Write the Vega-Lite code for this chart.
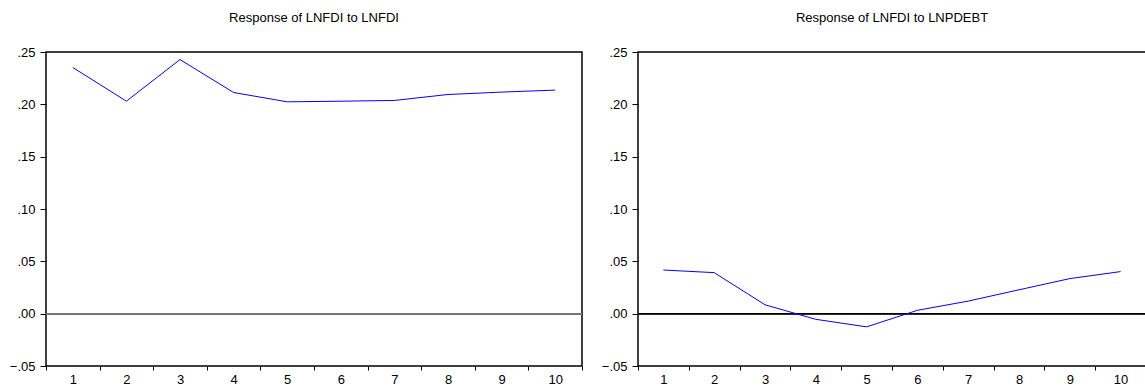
{
  "$schema": "https://vega.github.io/schema/vega-lite/v6.json",
  "background": "white",
  "padding": {"left": 8, "top": 11, "right": 0, "bottom": 0},
  "spacing": 16,
  "config": {
    "font": "Liberation Sans",
    "view": {"stroke": "#000", "strokeWidth": 1.5},
    "axis": {"grid": false, "domain": false, "labelFont": "Liberation Sans", "labelFontSize": 13, "labelColor": "#000", "tickColor": "#000", "tickWidth": 1, "title": null},
    "title": {"font": "Liberation Sans", "fontSize": 13, "fontWeight": "normal", "color": "#000", "offset": 21}
  },
  "datasets": {
    "fdi": [
      {"period": 1, "response": 0.2352},
      {"period": 2, "response": 0.203},
      {"period": 3, "response": 0.2428},
      {"period": 4, "response": 0.2113},
      {"period": 5, "response": 0.2024},
      {"period": 6, "response": 0.203},
      {"period": 7, "response": 0.2037},
      {"period": 8, "response": 0.2094},
      {"period": 9, "response": 0.2117},
      {"period": 10, "response": 0.2136}
    ],
    "pdebt": [
      {"period": 1, "response": 0.0417},
      {"period": 2, "response": 0.0392},
      {"period": 3, "response": 0.0085},
      {"period": 4, "response": -0.0054},
      {"period": 5, "response": -0.0126},
      {"period": 6, "response": 0.0032},
      {"period": 7, "response": 0.012},
      {"period": 8, "response": 0.0228},
      {"period": 9, "response": 0.0335},
      {"period": 10, "response": 0.0402}
    ]
  },
  "hconcat": [
    {
      "width": 536,
      "height": 314,
      "title": "Response of LNFDI to LNFDI",
      "data": {"name": "fdi"},
      "layer": [
        {
          "mark": {"type": "rule", "color": "#777", "strokeWidth": 1.5},
          "encoding": {"y": {"datum": 0, "type": "quantitative"}}
        },
        {
          "mark": {"type": "line", "color": "#0000ff", "strokeWidth": 1},
          "encoding": {
            "x": {"field": "period", "type": "quantitative",
              "scale": {"domain": [0.5, 10.5], "nice": false, "zero": false},
              "axis": {"values": [0.5, 1.5, 2.5, 3.5, 4.5, 5.5, 6.5, 7.5, 8.5, 9.5, 10.5], "tickSize": 4, "labelPadding": 3, "labelOffset": {"condition": {"test": "datum.value > 10", "value": 0}, "value": 26.8}, "labelFlush": false, "labelOverlap": false, "labelExpr": "datum.value > 10 ? '' : format(datum.value + 0.5, 'd')"}},
            "y": {"field": "response", "type": "quantitative",
              "scale": {"domain": [-0.05, 0.25], "nice": false, "zero": false},
              "axis": {"values": [-0.05, 0, 0.05, 0.1, 0.15, 0.2, 0.25], "tickSize": 6, "labelPadding": 5, "labelExpr": "replace(format(datum.value, '.2f'), '0.', '.')"}}
          }
        }
      ]
    },
    {
      "width": 508,
      "height": 314,
      "title": "Response of LNFDI to LNPDEBT",
      "data": {"name": "pdebt"},
      "layer": [
        {
          "mark": {"type": "rule", "color": "#000", "strokeWidth": 1},
          "encoding": {"y": {"datum": 0, "type": "quantitative"}}
        },
        {
          "mark": {"type": "line", "color": "#0000ff", "strokeWidth": 1},
          "encoding": {
            "x": {"field": "period", "type": "quantitative",
              "scale": {"domain": [0.5, 10.5], "nice": false, "zero": false},
              "axis": {"values": [0.5, 1.5, 2.5, 3.5, 4.5, 5.5, 6.5, 7.5, 8.5, 9.5, 10.5], "tickSize": 4, "labelPadding": 3, "labelOffset": {"condition": {"test": "datum.value > 10", "value": 0}, "value": 25.4}, "labelFlush": false, "labelOverlap": false, "labelExpr": "datum.value > 10 ? '' : format(datum.value + 0.5, 'd')"}},
            "y": {"field": "response", "type": "quantitative",
              "scale": {"domain": [-0.05, 0.25], "nice": false, "zero": false},
              "axis": {"values": [-0.05, 0, 0.05, 0.1, 0.15, 0.2, 0.25], "tickSize": 6, "labelPadding": 5, "labelExpr": "replace(format(datum.value, '.2f'), '0.', '.')"}}
          }
        }
      ]
    }
  ]
}
